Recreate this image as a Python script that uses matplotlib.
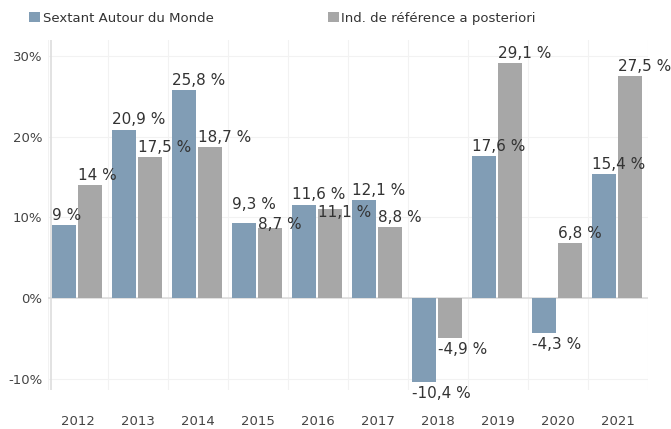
import matplotlib
matplotlib.use("Agg")
import matplotlib.pyplot as plt
import numpy as np
from matplotlib.patches import Patch

years = ["2012", "2013", "2014", "2015", "2016", "2017", "2018", "2019", "2020", "2021"]
sextant = [9, 20.9, 25.8, 9.3, 11.6, 12.1, -10.4, 17.6, -4.3, 15.4]
reference = [14, 17.5, 18.7, 8.7, 11.1, 8.8, -4.9, 29.1, 6.8, 27.5]
series_names = ["Sextant Autour du Monde", "Ind. de référence a posteriori"]
colors = ["#819db5", "#a7a7a7"]

# label nudges (pixels) used by the source chart to avoid label collisions
nudge_sextant = {3: 9}
nudge_reference = {3: -6, 4: -14}

fig = plt.figure(figsize=(6.71, 4.29), dpi=100)
ax = fig.add_axes([48 / 671, 39 / 429, 600 / 671, 350 / 429])

x = np.arange(len(years))
w = 0.405
for vals, offs, col, nud in [(sextant, -0.236, colors[0], nudge_sextant),
                             (reference, 0.2025, colors[1], nudge_reference)]:
    bars = ax.bar(x + offs, vals, width=w, color=col, zorder=3)
    for i, (b, v) in enumerate(zip(bars, vals)):
        lab = (f"{v:g}".replace(".", ",")) + " %"
        dy = nud.get(i, 0) * 0.72
        if v >= 0:
            ax.annotate(lab, (b.get_x(), v), xytext=(0, 1.5 + dy), textcoords="offset points",
                        ha="left", va="bottom", fontsize=11, color="#333333", zorder=4)
        else:
            ax.annotate(lab, (b.get_x(), v), xytext=(0, -3 + dy), textcoords="offset points",
                        ha="left", va="top", fontsize=11, color="#333333", zorder=4)

ax.set_xlim(-0.5, len(years) - 0.5)
ax.set_ylim(-11.4, 32.0)
ax.set_yticks([-10, 0, 10, 20, 30])
ax.set_yticklabels(["-10%", "0%", "10%", "20%", "30%"])
ax.set_xticks(x)
ax.set_xticklabels(years)
ax.set_xticks(np.arange(-0.5, len(years), 1), minor=True)
ax.tick_params(axis="x", which="major", length=0, pad=18, labelsize=9.5, colors="#444444")
ax.tick_params(axis="x", which="minor", length=0)
ax.tick_params(axis="y", length=0, pad=4, labelsize=9.5, colors="#444444")
ax.grid(axis="y", color="#f2f2f2", linewidth=0.8, zorder=0)
ax.grid(axis="x", which="minor", color="#f2f2f2", linewidth=0.8, zorder=0)
ax.axhline(0, color="#dddddd", linewidth=1.2, zorder=2)
ax.axvline(-0.45, color="#dddddd", linewidth=1.2, zorder=2)
for s in ["top", "right", "bottom", "left"]:
    ax.spines[s].set_visible(False)

handles = [Patch(facecolor=colors[0]), Patch(facecolor=colors[1])]
fig.legend(handles, series_names, loc="upper left", bbox_to_anchor=(0.026, 1.0), ncol=2,
           frameon=False, fontsize=9.5, handlelength=0.8, handleheight=0.8, handletextpad=0.2,
           columnspacing=8.7, labelcolor="#333333")

fig.savefig("out.png", dpi=100)
